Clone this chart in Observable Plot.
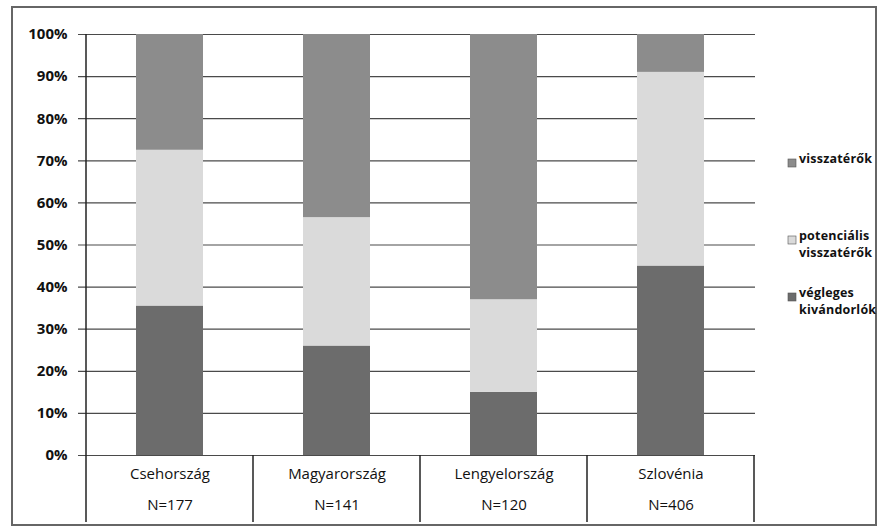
<!DOCTYPE html>
<html><head><meta charset="utf-8">
<script src="https://cdn.jsdelivr.net/npm/d3@7"></script>
<script src="https://cdn.jsdelivr.net/npm/@observablehq/plot@0.6"></script>
<style>
html,body{margin:0;padding:0;background:#fff;}
#chart svg{display:block;}
</style></head>
<body><div id="chart"></div>
<script>
const countries = ["Csehország", "Magyarország", "Lengyelország", "Szlovénia"];
const nLabels = ["N=177", "N=141", "N=120", "N=406"];
const series = ["végleges kivándorlók", "potenciális visszatérők", "visszatérők"];
const vegleges = [35.5, 26, 15, 45];
const potencialis = [37, 30.5, 22, 46];
const visszaterok = [27.5, 43.5, 63, 9];
const yTicks = [0, 10, 20, 30, 40, 50, 60, 70, 80, 90, 100];
const colors = ["#6c6c6c", "#dadada", "#8c8c8c"];
const legendLines = [["visszatérők"], ["potenciális", "visszatérők"], ["végleges", "kivándorlók"]];

const valuesBySeries = [vegleges, potencialis, visszaterok];
const table = [];
series.forEach((s, si) => countries.forEach((c, ci) => table.push({country: c, series: s, value: valuesBySeries[si][ci]})));
const labelRows = countries.map((c, i) => ({country: c, n: nLabels[i]}));

const font = "'Open Sans', 'Liberation Sans', sans-serif";
const chart = Plot.plot({
  width: 879, height: 527,
  marginLeft: 84, marginRight: 124, marginTop: 34, marginBottom: 72,
  style: {fontFamily: font, background: "#fff"},
  x: {domain: countries, paddingInner: 0.6, paddingOuter: 0.3, axis: null},
  y: {domain: [0, 100], ticks: yTicks, label: null, axis: null},
  color: {domain: series, range: colors},
  marks: [
    Plot.ruleY(yTicks, {stroke: "#4a4a4a", strokeWidth: 1.2, insetLeft: -6}),
    Plot.barY(table, {x: "country", y: "value", fill: "series", order: series}),
    Plot.text(yTicks, {y: d => d, text: d => d + "%", frameAnchor: "left", textAnchor: "end", dx: -17, fontSize: 15, fontWeight: "bold", fill: "#111"}),
    Plot.text(labelRows, {x: "country", text: "country", frameAnchor: "bottom", dy: 23, fontSize: 15, fill: "#111"}),
    Plot.text(labelRows, {x: "country", text: "n", frameAnchor: "bottom", dy: 54, fontSize: 15, fill: "#111"})
  ]
});
document.getElementById("chart").appendChild(chart);

const svg = d3.select(chart);
const xs = chart.scale("x");
const ys = chart.scale("y");
const half = (xs.step - xs.bandwidth) / 2;
const bounds = countries.map(c => xs.apply(c) - half);
bounds.push(xs.apply(countries[countries.length - 1]) + xs.bandwidth + half);
const y0 = ys.apply(0), y100 = ys.apply(100);
const tableBottom = y0 + 67;
// left axis line
svg.append("line").attr("x1", bounds[0]).attr("x2", bounds[0]).attr("y1", y100).attr("y2", tableBottom)
  .attr("stroke", "#222").attr("stroke-width", 1.5);
bounds.slice(1).forEach(b => svg.append("line").attr("x1", b).attr("x2", b).attr("y1", y0).attr("y2", tableBottom)
  .attr("stroke", "#222").attr("stroke-width", 1.5));
// outer frame
svg.append("rect").attr("x", 12).attr("y", 7).attr("width", 864).attr("height", 518)
  .attr("fill", "none").attr("stroke", "#666").attr("stroke-width", 2);
// legend
const legendOrder = [2, 1, 0];
const legendY = [163, 240, 297];
legendOrder.forEach((si, k) => {
  const g = svg.append("g");
  g.append("rect").attr("x", 788).attr("y", legendY[k] - 4).attr("width", 8).attr("height", 8)
    .attr("fill", colors[si]).attr("stroke", "#555").attr("stroke-width", 0.6);
  const t = g.append("text").attr("x", 799).attr("y", legendY[k]).attr("dy", "0.35em")
    .attr("text-anchor", "start").attr("letter-spacing", 0.2)
    .attr("font-family", font).attr("font-size", 12.5).attr("font-weight", "bold").attr("fill", "#111");
  legendLines[k].forEach((line, li) => {
    t.append("tspan").attr("x", 799).attr("dy", li === 0 ? 0 : 17).text(line);
  });
});
</script></body></html>
